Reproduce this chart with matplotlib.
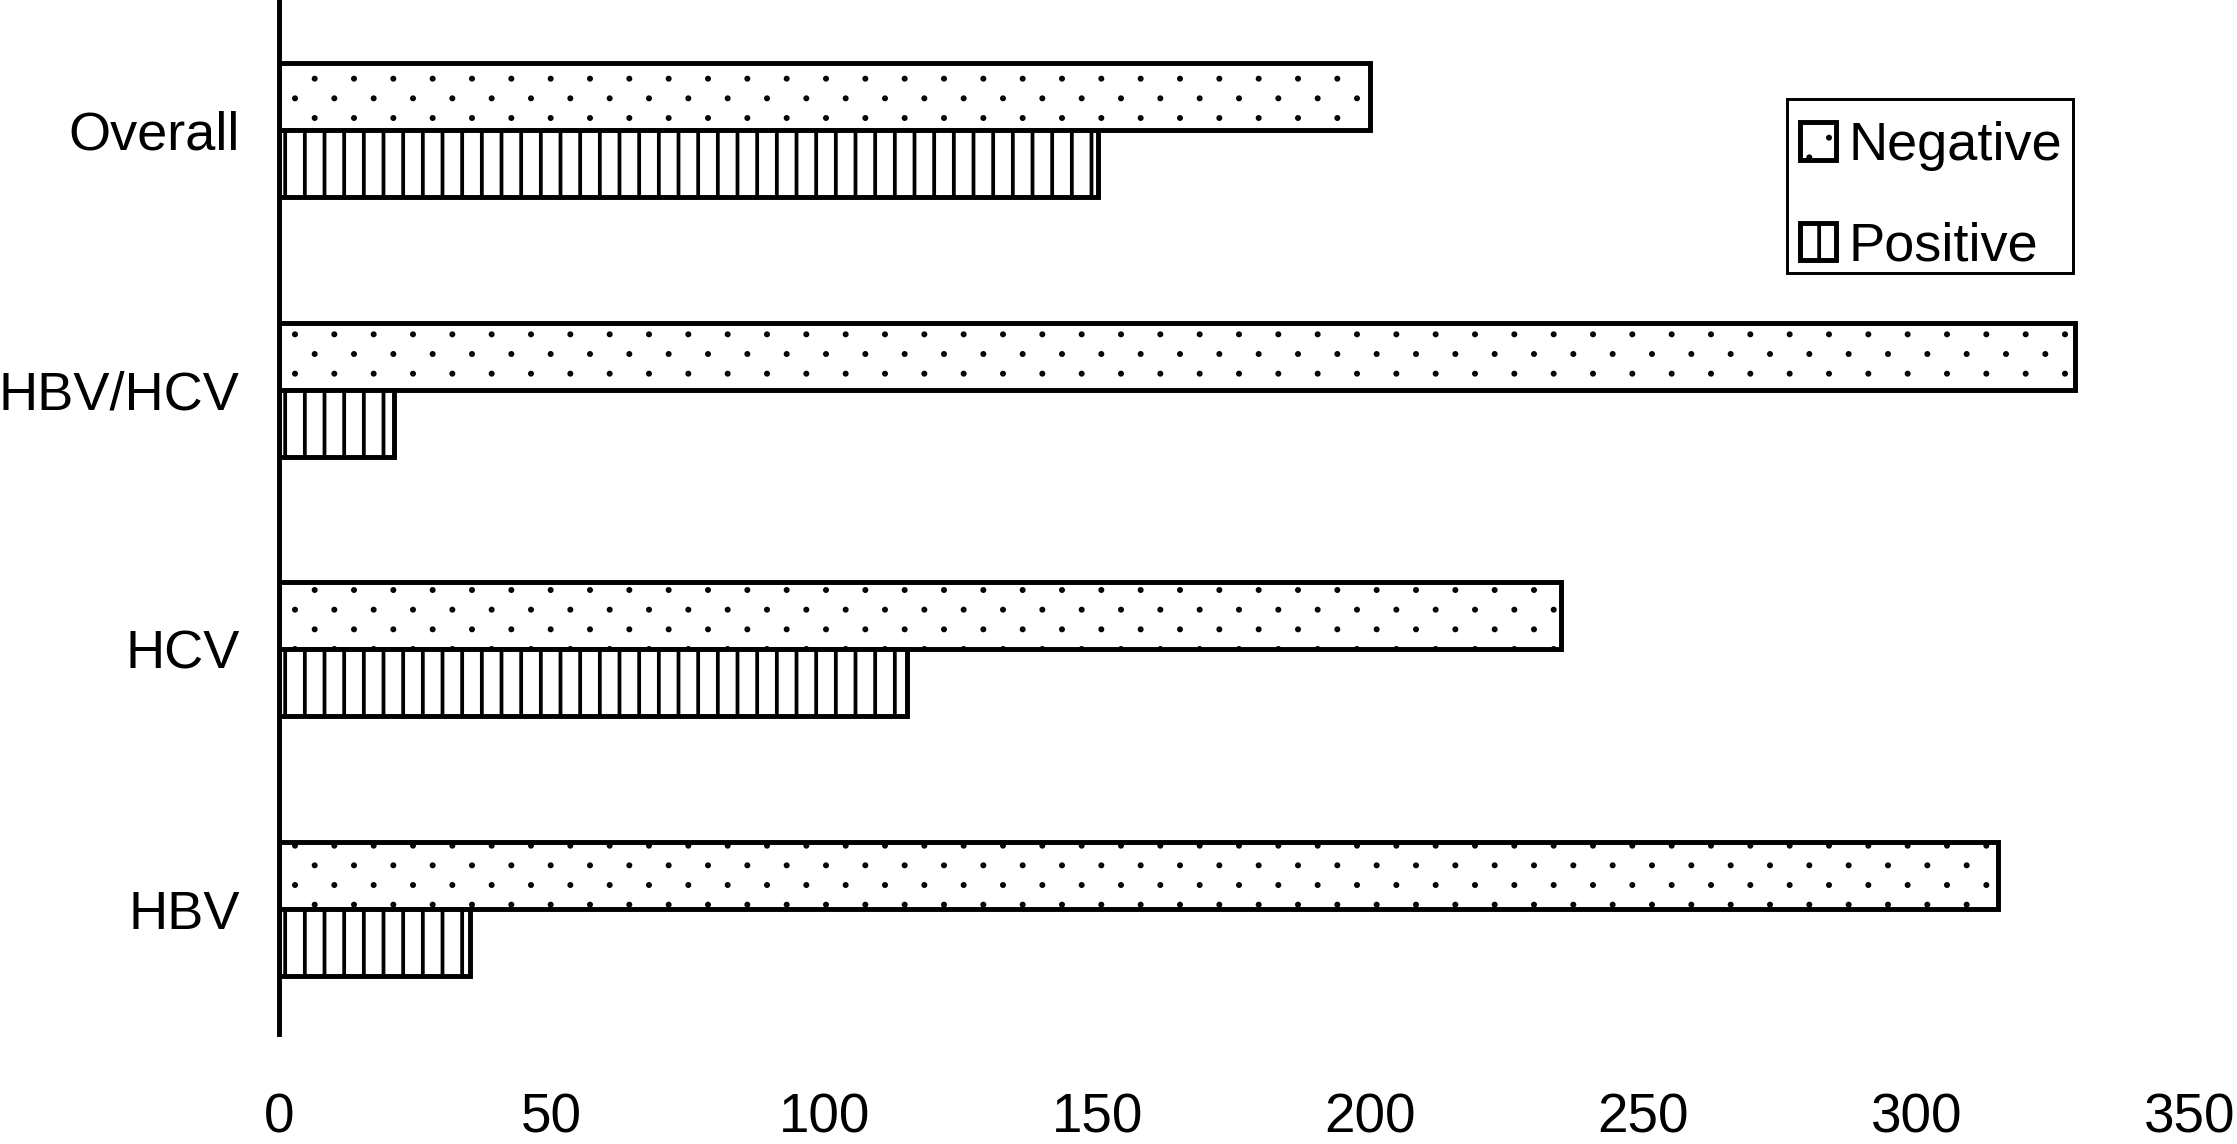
import numpy as np
import matplotlib
matplotlib.use("Agg")
import matplotlib.pyplot as plt
import matplotlib.hatch as mhatch
from matplotlib.path import Path
from matplotlib.patches import Rectangle

categories = ["HBV", "HCV", "HBV/HCV", "Overall"]
negative = [315, 235, 329, 200]
positive = [35, 115, 21, 150]
xticks = [0, 50, 100, 150, 200, 250, 300, 350]


# '.' hatch with the dots in a row spaced twice as far as the rows
class SparseDots(mhatch.HatchPatternBase):
    def __init__(self, hatch, density):
        self.rows = hatch.count('.') * 6
        self.cols = hatch.count('.') * 3
        circle = Path.unit_circle()
        self.shape_vertices = circle.vertices
        self.shape_codes = circle.codes
        n = (self.rows // 2 + 1) * (self.cols + 1) + (self.rows // 2) * self.cols
        self.num_vertices = n * len(circle.vertices) if self.rows else 0

    def set_vertices_and_codes(self, vertices, codes):
        r = 0.009
        verts, cds = [], []
        for row in range(self.rows + 1):
            if row % 2 == 0:
                xs = np.linspace(0, 1, self.cols + 1)
            else:
                xs = np.linspace(0.5 / self.cols, 1 - 0.5 / self.cols, self.cols)
            for x in xs:
                verts.append(self.shape_vertices * r + [x, row / self.rows])
                cds.append(self.shape_codes)
        np.concatenate(verts, out=vertices)
        np.concatenate(cds, out=codes)


i = mhatch._hatch_types.index(mhatch.SmallFilledCircles)
mhatch._hatch_types[i] = SparseDots

plt.rcParams['font.family'] = ['Liberation Sans', 'DejaVu Sans']
plt.rcParams['hatch.linewidth'] = 2.3

dpi = 118
fig = plt.figure(figsize=(2237 / dpi, 1144 / dpi), dpi=dpi)
ax = fig.add_axes([0.1247, 0.0962, 0.9786 - 0.1247, 1 - 0.0962])

y = np.arange(len(categories))
h = 0.258
ax.barh(y + h / 2, negative, height=h, facecolor='white', edgecolor='black',
        hatch='.', linewidth=3.0, label='Negative')
ax.barh(y - h / 2, positive, height=h, facecolor='white', edgecolor='black',
        hatch='|', linewidth=3.0, label='Positive')

ax.set_xlim(0, 350)
ax.set_ylim(-0.48, 3.5)
ax.set_xticks(xticks)
ax.set_yticks(y)
ax.set_yticklabels(categories)
ax.tick_params(axis='y', length=0, pad=24, labelsize=33)
ax.tick_params(axis='x', length=0, pad=36, labelsize=33.5)

for s in ['top', 'right', 'bottom']:
    ax.spines[s].set_visible(False)
ax.spines['left'].set_linewidth(3)

# legend box drawn separately so the entries can sit a bit lower in it
ax.add_patch(Rectangle((0.7895, 0.7360), 0.9393 - 0.7895, 0.9043 - 0.7360,
                       transform=ax.transAxes, facecolor='white',
                       edgecolor='black', linewidth=1.8, zorder=4))
leg = ax.legend(loc='upper right', bbox_to_anchor=(0.9398, 0.8950),
                borderaxespad=0, fontsize=33, frameon=False,
                handlelength=0.66, handleheight=0.68,
                handletextpad=0.22, borderpad=0.23, labelspacing=0.93)
leg.set_zorder(5)

fig.savefig("out.png", dpi=dpi)
